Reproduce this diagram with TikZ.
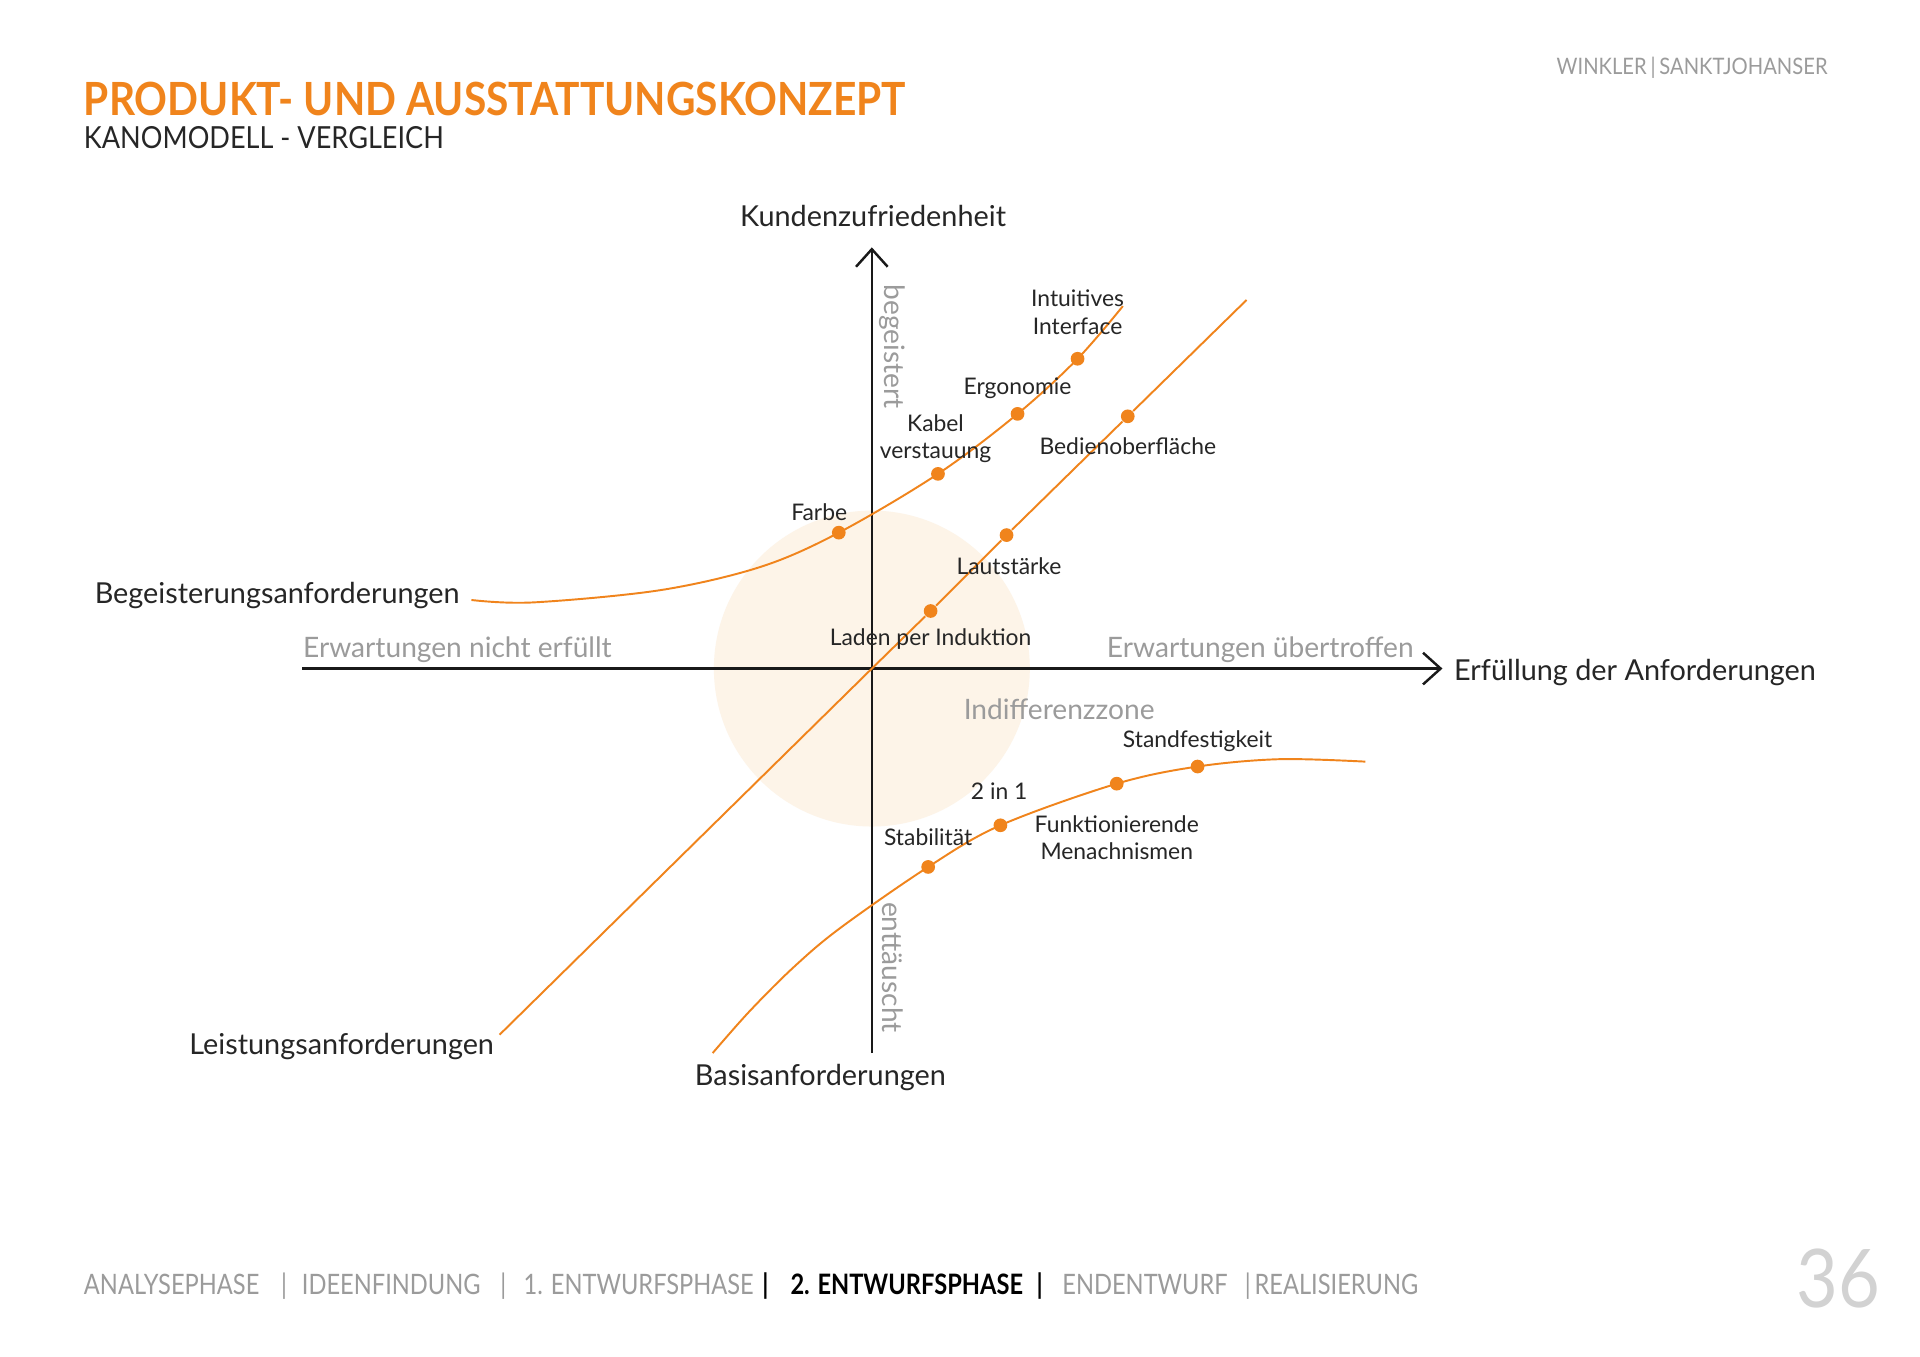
\documentclass[tikz,border=0pt]{standalone}
\usepackage{fontspec}
\setmainfont{Lato}
\newfontfamily\titlefont[FakeStretch=0.89]{Lato}
\newfontfamily\footfont[FakeStretch=0.84]{Lato}
\usetikzlibrary{arrows.meta}
\definecolor{kano}{RGB}{240,132,28}
\definecolor{zone}{RGB}{253,244,232}
\definecolor{greytext}{RGB}{155,155,155}
\definecolor{pagenum}{RGB}{210,210,210}

\begin{document}
\begin{tikzpicture}[x=0.012245cm, y=-0.012245cm,
    >={Straight Barb[length=5pt,width=9pt]},
    dot/.style={circle, fill=kano, inner sep=0pt, minimum size=3.9pt},
    curve/.style={kano, line width=0.55pt},
    axis/.style={black!90, line width=0.7pt, ->},
    lbl/.style={font=\fontsize{8.2}{10}\selectfont, text=black!85, inner sep=0pt},
    small/.style={font=\fontsize{6.5}{7.7}\selectfont, text=black!85, inner sep=0pt, align=center},
    grey/.style={lbl, font=\fontsize{8}{10}\selectfont, text=greytext},
    foot/.style={font=\footfont\fontsize{8}{10}\selectfont, text=greytext, inner sep=0pt, anchor=base west}]
        \useasboundingbox[fill=white] (0,0) rectangle (1568,1108);
        % Header
        \node[anchor=base west, inner sep=0pt, text=kano, font=\titlefont\bfseries\fontsize{13}{15}\selectfont] (title) at (68,94) {PRODUKT- UND AUSSTATTUNGSKONZEPT};
        \node[anchor=base west, inner sep=0pt, text=black!85, font=\titlefont\fontsize{8.65}{10}\selectfont] (subtitle) at (68,121) {KANOMODELL - VERGLEICH};
        \node[anchor=base east, inner sep=0pt, text=greytext, font=\titlefont\fontsize{6.45}{8}\selectfont] (authors) at (1493,61) {WINKLER\,|\,SANKTJOHANSER};
        % Indifferenzzone
        \fill[zone] (712,546) circle[radius=129];
        % Achsen
        \coordinate (O) at (712,546);
        \coordinate (xstart) at (247,546);
        \coordinate (xend) at (1178,546);
        \coordinate (ystart) at (712,860);
        \coordinate (yend) at (712,202);
        \draw[axis] (xstart) -- (xend);
        \draw[axis] (ystart) -- (yend);
        % Punkte
        \node[dot] (farbe) at (685,435) {};
        \node[dot] (kabel) at (766,387) {};
        \node[dot] (ergo) at (831,338) {};
        \node[dot] (intui) at (880,293) {};
        \node[dot] (laden) at (760,499) {};
        \node[dot] (laut) at (822,437) {};
        \node[dot] (bedien) at (921,340) {};
        \node[dot] (stabil) at (758,708) {};
        \node[dot] (zwei) at (817,674) {};
        \node[dot] (funkt) at (912,640) {};
        \node[dot] (stand) at (978,626) {};
        % Kurven
        \coordinate (bA) at (385,490);
        \coordinate (bB) at (435,492);
        \coordinate (bC) at (539,482);
        \coordinate (bD) at (621,463);
        \coordinate (bE) at (917,250);
        \draw[curve] plot[smooth, tension=0.55] coordinates {(bA) (bB) (bC) (bD) (farbe) (kabel) (ergo) (intui) (bE)};
        \coordinate (lA) at (408,845);
        \coordinate (lE) at (1018,245);
        \draw[curve] (lA) -- (O) -- (laden) -- (laut) -- (bedien) -- (lE);
        \coordinate (gA) at (582,860);
        \coordinate (gB) at (612,826);
        \coordinate (gC) at (648,790);
        \coordinate (gD) at (686,758);
        \coordinate (gF) at (1045,620);
        \coordinate (gE) at (1115,622);
        \draw[curve] plot[smooth, tension=0.55] coordinates {(gA) (gB) (gC) (gD) (stabil) (zwei) (funkt) (stand) (gF) (gE)};
        % Beschriftung
        \node[lbl] (yname) at (713,176) {Kundenzufriedenheit};
        \node[lbl, anchor=west] (xname) at (1187,549) {Erfüllung der Anforderungen};
        \node[grey, anchor=west] (nicht) at (247,531) {Erwartungen nicht erfüllt};
        \node[grey, anchor=east] (ueber) at (1155,531) {Erwartungen übertroffen};
        \node[grey, rotate=-90] (begeistert) at (729,283) {begeistert};
        \node[grey, rotate=-90] (enttaeuscht) at (729,790) {enttäuscht};
        \node[grey] (zone) at (865,579) {Indifferenzzone};
        \node[lbl, anchor=east] (begeist) at (376,486) {Begeisterungsanforderungen};
        \node[lbl, anchor=east] (leist) at (404,855) {Leistungsanforderungen};
        \node[lbl] (basis) at (670,880) {Basisanforderungen};
        \node[small] at (880,255) {Intuitives\\Interface};
        \node[small] at (831,317) {Ergonomie};
        \node[small] at (764,358) {Kabel\\verstauung};
        \node[small] at (921,364) {Bedienoberfläche};
        \node[small] at (669,418) {Farbe};
        \node[small] at (824,462) {Lautstärke};
        \node[small] at (760,522) {Laden per Induktion};
        \node[small] at (978,605) {Standfestigkeit};
        \node[small] at (816,646) {2 in 1};
        \node[small] at (912,684) {Funktionierende\\Menachnismen};
        \node[small] at (758,684) {Stabilität};
        % Fusszeile
        \foreach \x/\t in {68/ANALYSEPHASE, 229/|, 246/IDEENFINDUNG, 408/|, 427/1. ENTWURFSPHASE, 867/ENDENTWURF, 1016/|, 1024/REALISIERUNG}
            \node[foot] (f\x) at (\x,1057) {\t};
        \node[foot, text=black, font=\footfont\bfseries\fontsize{8}{10}\selectfont] (sepA) at (622,1057) {|};
        \node[foot, text=black, font=\footfont\bfseries\fontsize{8}{10}\selectfont] (phase) at (645,1057) {2. ENTWURFSPHASE};
        \node[foot, text=black, font=\footfont\bfseries\fontsize{8}{10}\selectfont] (sepB) at (846,1057) {|};
        \node[anchor=base east, inner sep=0pt, text=pagenum, font=\titlefont\fontsize{23}{25}\selectfont] (page) at (1536,1068) {36};
    \end{tikzpicture}
\end{document}
